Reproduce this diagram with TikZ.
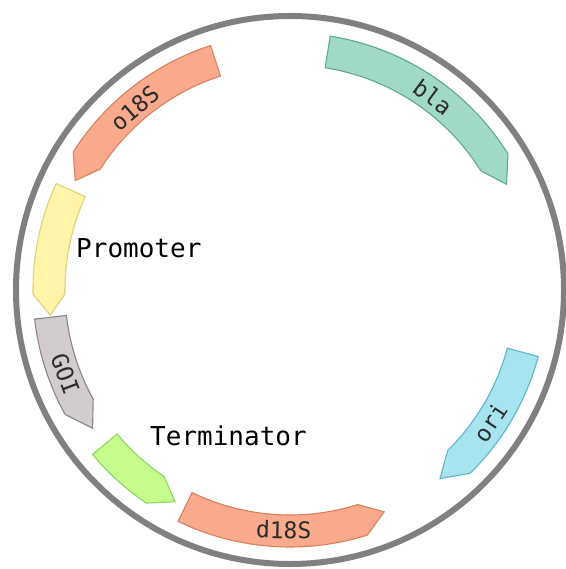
\documentclass[tikz,border=0pt]{standalone}
\usepackage{fontspec}
\newfontfamily\monofont{DejaVu Sans Mono}
\definecolor{ringgray}{HTML}{808080}
\definecolor{salmonF}{HTML}{F9AA8C}
\definecolor{salmonD}{HTML}{D9805F}
\definecolor{tealF}{HTML}{A0DAC6}
\definecolor{tealD}{HTML}{62A88C}
\definecolor{yelF}{HTML}{FFF4A8}
\definecolor{yelD}{HTML}{DDD27A}
\definecolor{greyF}{HTML}{D2CCCF}
\definecolor{greyD}{HTML}{8A8588}
\definecolor{grnF}{HTML}{C6FB8E}
\definecolor{grnD}{HTML}{8ED664}
\definecolor{cyanF}{HTML}{A8E4F0}
\definecolor{cyanD}{HTML}{5CB6CA}
\definecolor{labtxt}{HTML}{2A2A2A}
% #1 style, #2 start angle, #3 shoulder angle, #4 tip angle
\newcommand\plasfeat[4]{%
  \draw[#1] (#2:257) arc[start angle=#2, end angle=#3, radius=257]
    -- (#4:241) -- (#3:225) arc[start angle=#3, end angle=#2, radius=225] -- cycle;}
\begin{document}
\begin{tikzpicture}[x=1pt,y=1pt,
  ring/.style={draw=ringgray, line width=6pt},
  featbox/.style={line width=1.1pt, line join=miter},
  flab/.style={font=\monofont\fontsize{23}{23}\selectfont, text=labtxt, inner sep=0pt, anchor=center},
  xlab/.style={font=\monofont\fontsize{26}{26}\selectfont, text=black, inner sep=0pt, anchor=base west}]
\useasboundingbox (-290,-279) rectangle (275,290);
\fill[white] (-290,-279) rectangle (275,290);
\draw[ring] (0,0) circle (274);
% features
\plasfeat{featbox, fill=tealF, draw=tealD}{81}{32}{26}
\plasfeat{featbox, fill=salmonF, draw=salmonD}{108}{147.5}{153}
\plasfeat{featbox, fill=yelF, draw=yelD}{155.5}{181}{186}
\plasfeat{featbox, fill=greyF, draw=greyD}{186.5}{209}{215}
\plasfeat{featbox, fill=grnF, draw=grnD}{219.8}{236}{241.5}
\plasfeat{featbox, fill=salmonF, draw=salmonD}{244.2}{287.5}{293}
\plasfeat{featbox, fill=cyanF, draw=cyanD}{345}{314.5}{308.5}
% feature labels
\node[flab, rotate=-36.5] (lbla) at (53.5:240) {bla};
\node[flab, rotate=40.5] (lo18s) at (130.5:239) {o18S};
\node[flab, rotate=290.5] (lgoi) at (200.5:240) {GOI};
\node[flab, rotate=-1.5] (ld18s) at (268.5:240) {d18S};
\node[flab, rotate=56.5] (lori) at (326.5:240) {ori};
% external labels
\node[xlab] (prom) at (-214,32) {Promoter};
\node[xlab] (term) at (-140,-155) {Terminator};
\end{tikzpicture}
\end{document}
